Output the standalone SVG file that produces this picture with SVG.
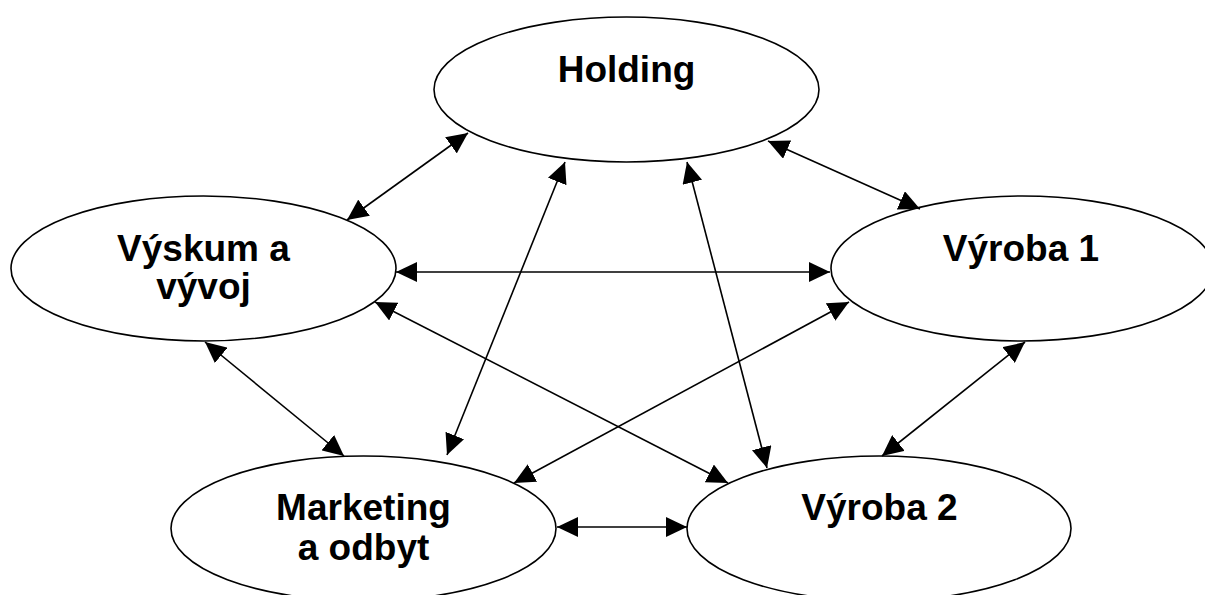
<svg xmlns="http://www.w3.org/2000/svg" width="1205" height="595" viewBox="0 0 1205 595">
<defs>
<style>
.node ellipse{fill:#fff;stroke:#000;stroke-width:1.6}
.node text{font-family:"Liberation Sans",Arial,sans-serif;font-weight:bold;font-size:37px;fill:#000;text-anchor:middle}
.conn line{stroke:#000;stroke-width:1.6;marker-start:url(#ah);marker-end:url(#ah)}
</style>
<marker id="ah" markerUnits="userSpaceOnUse" markerWidth="22" markerHeight="20" refX="21" refY="10" orient="auto-start-reverse" viewBox="0 0 22 20">
<path d="M0,0 L21,10 L0,20 z" fill="#000"/>
</marker>
</defs>
<rect width="1205" height="595" fill="#fff"/>
<g id="n-holding" class="node">
<ellipse cx="626.5" cy="89.5" rx="192.5" ry="72.5"/>
<text x="626.5" y="82">Holding</text>
</g>
<g id="n-vyskum" class="node">
<ellipse cx="203.5" cy="268.5" rx="192.5" ry="72.5"/>
<text x="203.5" y="261">Výskum a</text>
<text x="203.5" y="299">vývoj</text>
</g>
<g id="n-vyroba1" class="node">
<ellipse cx="1022" cy="268.5" rx="191" ry="72.5"/>
<text x="1021" y="261">Výroba 1</text>
</g>
<g id="n-marketing" class="node">
<ellipse cx="363.5" cy="528.5" rx="192.5" ry="72.5"/>
<text x="363.5" y="520">Marketing</text>
<text x="363.5" y="560">a odbyt</text>
</g>
<g id="n-vyroba2" class="node">
<ellipse cx="879" cy="528.5" rx="192" ry="72.5"/>
<text x="879.5" y="520">Výroba 2</text>
</g>
<g id="connectors" class="conn">
<line x1="468" y1="133" x2="347" y2="220"/>
<line x1="768" y1="141" x2="920" y2="209"/>
<line x1="565" y1="162" x2="447" y2="455"/>
<line x1="687" y1="162" x2="767" y2="468"/>
<line x1="396" y1="272" x2="830" y2="272"/>
<line x1="375" y1="302" x2="728" y2="483"/>
<line x1="205" y1="342" x2="344" y2="456"/>
<line x1="849" y1="302" x2="514" y2="483"/>
<line x1="1025" y1="342" x2="882" y2="456"/>
<line x1="557" y1="527" x2="687" y2="527"/>
</g>
</svg>
